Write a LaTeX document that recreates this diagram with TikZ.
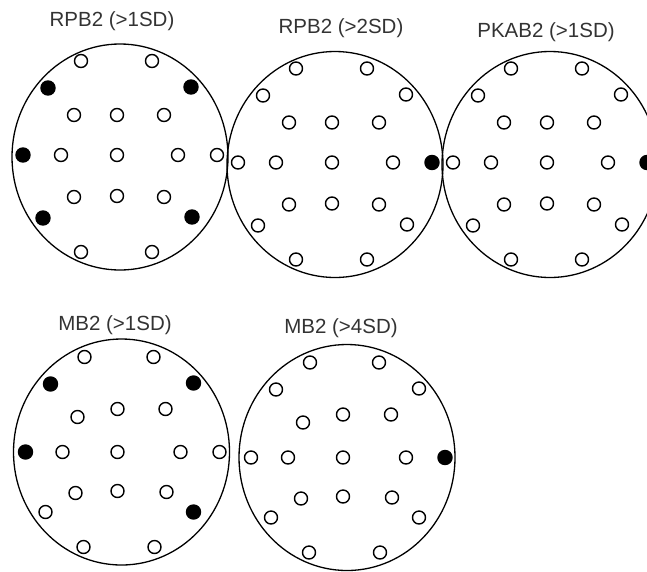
\documentclass[tikz,border=0pt]{standalone}
\usepackage{fontspec}
\setmainfont{Liberation Sans}
\usetikzlibrary{shapes.geometric}
\begin{document}
\def\layoutA{Fp1/-39/-96, Fp2/32/-96, F7/-72/-69, F8/71/-70, F3/-46/-42, Fz/-3/-42, F4/44/-42, T3/-97/-2, C3/-59/-2, Cz/-3/-2, C4/58/-2, T4/97/-2, P3/-46/40, Pz/-3/39, P4/44/40, T5/-77/61, T6/72/60, O1/-39/95, O2/32/95}
\def\layoutB{Fp1/-37/-95, Fp2/32/-95, F7/-71/-68, F8/72/-69, F3/-44/-35, Fz/-4/-43, F4/44/-43, T3/-96/0, C3/-59/0, Cz/-4/0, C4/59/0, T4/98/0, P3/-46/41, Pz/-4/39, P4/45/40, T5/-76/60, T6/72/60, O1/-38/95, O2/33/95}
\begin{tikzpicture}[x=1pt,y=-1pt,
  headshape/.style={draw, ellipse, line width=1.3pt, minimum width=216pt, minimum height=226pt, inner sep=0pt},
  elec/.style={draw, circle, line width=1.4pt, minimum size=13pt, inner sep=0pt},
  on/.style={fill=black, minimum size=14pt},
  title/.style={anchor=base, text=black!80, font=\fontsize{20.5}{24}\selectfont, inner sep=0pt}]
\useasboundingbox (0,0) rectangle (647,571);
% titles
\node[title] (t1) at (112,26.7) {RPB2 (>1SD)};
\node[title] (t2) at (341,33.3) {RPB2 (>2SD)};
\node[title] (t3) at (546,37.3) {PKAB2 (>1SD)};
\node[title] (t4) at (115,330) {MB2 (>1SD)};
\node[title] (t5) at (341,333.3) {MB2 (>4SD)};
% heads
\node[headshape] (h1) at (120,157) {};
\node[headshape] (h2) at (335,164.5) {};
\node[headshape] (h3) at (550,164.5) {};
\node[headshape] (h4) at (121.5,452) {};
\node[headshape] (h5) at (347,457.5) {};
% electrodes
\begin{scope}[shift={(120,157)}, F7/.style={on}, F8/.style={on}, T3/.style={on}, T5/.style={on}, T6/.style={on}]
  \foreach \n/\px/\py in \layoutA {\node[elec, \n/.try] (h1-\n) at (\px,\py) {};}
\end{scope}
\begin{scope}[shift={(335,164.5)}, T4/.style={on}]
  \foreach \n/\px/\py in \layoutA {\node[elec, \n/.try] (h2-\n) at (\px,\py) {};}
\end{scope}
\begin{scope}[shift={(550,164.5)}, T4/.style={on}]
  \foreach \n/\px/\py in \layoutA {\node[elec, \n/.try] (h3-\n) at (\px,\py) {};}
\end{scope}
\begin{scope}[shift={(121.5,452)}, F7/.style={on}, F8/.style={on}, T3/.style={on}, T6/.style={on}]
  \foreach \n/\px/\py in \layoutB {\node[elec, \n/.try] (h4-\n) at (\px,\py) {};}
\end{scope}
\begin{scope}[shift={(347,457.5)}, T4/.style={on}]
  \foreach \n/\px/\py in \layoutB {\node[elec, \n/.try] (h5-\n) at (\px,\py) {};}
\end{scope}
\end{tikzpicture}
\end{document}
